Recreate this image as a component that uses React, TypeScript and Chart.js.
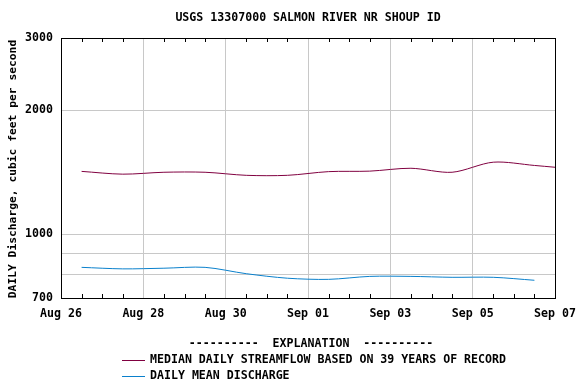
import React, { useEffect, useRef } from "react";
import { Chart, registerables } from "chart.js";
Chart.register(...registerables);

const TITLE = "USGS 13307000 SALMON RIVER NR SHOUP ID";
const Y_TITLE = "DAILY Discharge, cubic feet per second";
const LEGEND_TITLE = "----------  EXPLANATION  ----------";
const days = ["Aug 26", "Aug 27", "Aug 28", "Aug 29", "Aug 30", "Aug 31", "Sep 01", "Sep 02", "Sep 03", "Sep 04", "Sep 05", "Sep 06", "Sep 07"];
const medianFlow = [1422, 1400, 1415, 1415, 1391, 1391, 1420, 1424, 1447, 1415, 1497, 1470, 1440];
const dailyMean = [831, 824, 827, 831, 802, 782, 777, 790, 790, 786, 786, 773];
const xTickLabels = ["Aug 26", "Aug 28", "Aug 30", "Sep 01", "Sep 03", "Sep 05", "Sep 07"];
const yTicks = [700, 800, 900, 1000, 2000, 3000];
const yLabeled = [700, 1000, 2000, 3000];
const legendLabels = ["MEDIAN DAILY STREAMFLOW BASED ON 39 YEARS OF RECORD", "DAILY MEAN DISCHARGE"];
const RED = "#800040";
const BLUE = "#0a80cc";
const FONT = "'DejaVu Sans Mono', monospace";

const decorPlugin = {
  id: "decor",
  afterDraw(chart: any) {
    const { ctx, chartArea: a } = chart;
    ctx.save();
    ctx.strokeStyle = "#000";
    ctx.lineWidth = 1;
    ctx.strokeRect(Math.round(a.left) + 0.5, Math.round(a.top) + 0.5, Math.round(a.right - a.left), Math.round(a.bottom - a.top));
    const xs = chart.scales.x;
    ctx.beginPath();
    for (let v = 0.5; v < days.length - 1; v += 0.5) {
      if (v % 2 === 0) continue;
      const px = Math.round(xs.getPixelForValue(v)) + 0.5;
      ctx.moveTo(px, a.bottom);
      ctx.lineTo(px, a.bottom - 4);
      ctx.moveTo(px, a.top);
      ctx.lineTo(px, a.top + 4);
    }
    ctx.stroke();
    ctx.fillStyle = "#000";
    ctx.font = `bold 11.6px ${FONT}`;
    ctx.textAlign = "center";
    ctx.textBaseline = "middle";
    ctx.fillText(TITLE, (a.left + a.right) / 2, 18);
    ctx.save();
    ctx.translate(13, (a.top + a.bottom) / 2 + 1);
    ctx.rotate(-Math.PI / 2);
    ctx.font = `bold 11.3px ${FONT}`;
    ctx.fillText(Y_TITLE, 0, 0);
    ctx.restore();
    ctx.font = `bold 11.6px ${FONT}`;
    ctx.textAlign = "center";
    ctx.fillText(LEGEND_TITLE, 311, 344);
    const colors = [RED, BLUE];
    legendLabels.forEach((t, i) => {
      const y = 360 + i * 16;
      ctx.strokeStyle = colors[i];
      ctx.beginPath();
      ctx.moveTo(122, y + 0.5);
      ctx.lineTo(145, y + 0.5);
      ctx.stroke();
      ctx.fillStyle = "#000";
      ctx.textAlign = "left";
      ctx.fillText(t, 150, y);
    });
    ctx.restore();
  },
};

export default function App() {
  const ref = useRef<HTMLCanvasElement>(null);
  useEffect(() => {
    const chart = new Chart(ref.current!, {
      type: "line",
      data: {
        datasets: [
          {
            label: legendLabels[0],
            data: medianFlow.map((v, i) => ({ x: i + 0.5, y: v })),
            borderColor: RED,
            borderWidth: 1,
            pointRadius: 0,
            tension: 0.3,
          },
          {
            label: legendLabels[1],
            data: dailyMean.map((v, i) => ({ x: i + 0.5, y: v })),
            borderColor: BLUE,
            borderWidth: 1,
            pointRadius: 0,
            tension: 0.3,
          },
        ],
      },
      options: {
        animation: false,
        responsive: false,
        layout: { padding: { top: 38, right: 21, left: 0, bottom: 0 } },
        plugins: { legend: { display: false }, tooltip: { enabled: false } },
        scales: {
          x: {
            type: "linear",
            min: 0,
            max: days.length - 1,
            afterFit: (s: any) => { s.height = 86; s.paddingLeft = 0; s.paddingRight = 0; },
            afterBuildTicks: (s: any) => {
              const t = [];
              for (let v = 0; v <= days.length - 1; v += 2) t.push({ value: v });
              s.ticks = t;
            },
            ticks: {
              autoSkip: false,
              maxRotation: 0,
              padding: 9,
              color: "#000",
              font: { family: FONT, weight: "bold", size: 11.6 },
              callback: (v: any) => xTickLabels[Math.round(v / 2)] ?? "",
            },
            grid: {
              drawTicks: false,
              color: (c: any) => (c.tick && c.tick.value > 0 && c.tick.value < days.length - 1 ? "#c8c8c8" : "rgba(0,0,0,0)"),
            },
            border: { display: false },
          },
          y: {
            type: "logarithmic",
            min: 700,
            max: 3000,
            afterFit: (s: any) => { s.width = 61; s.paddingTop = 0; s.paddingBottom = 0; },
            afterBuildTicks: (s: any) => { s.ticks = yTicks.map((v) => ({ value: v })); },
            ticks: {
              autoSkip: false,
              padding: 8,
              color: "#000",
              font: { family: FONT, weight: "bold", size: 11.6 },
              callback: (v: any) => (yLabeled.includes(v) ? String(v) : ""),
            },
            grid: {
              drawTicks: false,
              color: (c: any) => (c.tick && c.tick.value > 700 && c.tick.value < 3000 ? "#c8c8c8" : "rgba(0,0,0,0)"),
            },
            border: { display: false },
          },
        },
      } as any,
      plugins: [decorPlugin],
    });
    return () => chart.destroy();
  }, []);
  return (
    <div style={{ position: "absolute", left: 0, top: 0, width: 576, height: 384, background: "#fff" }}>
      <canvas ref={ref} width={576} height={384} />
    </div>
  );
}
